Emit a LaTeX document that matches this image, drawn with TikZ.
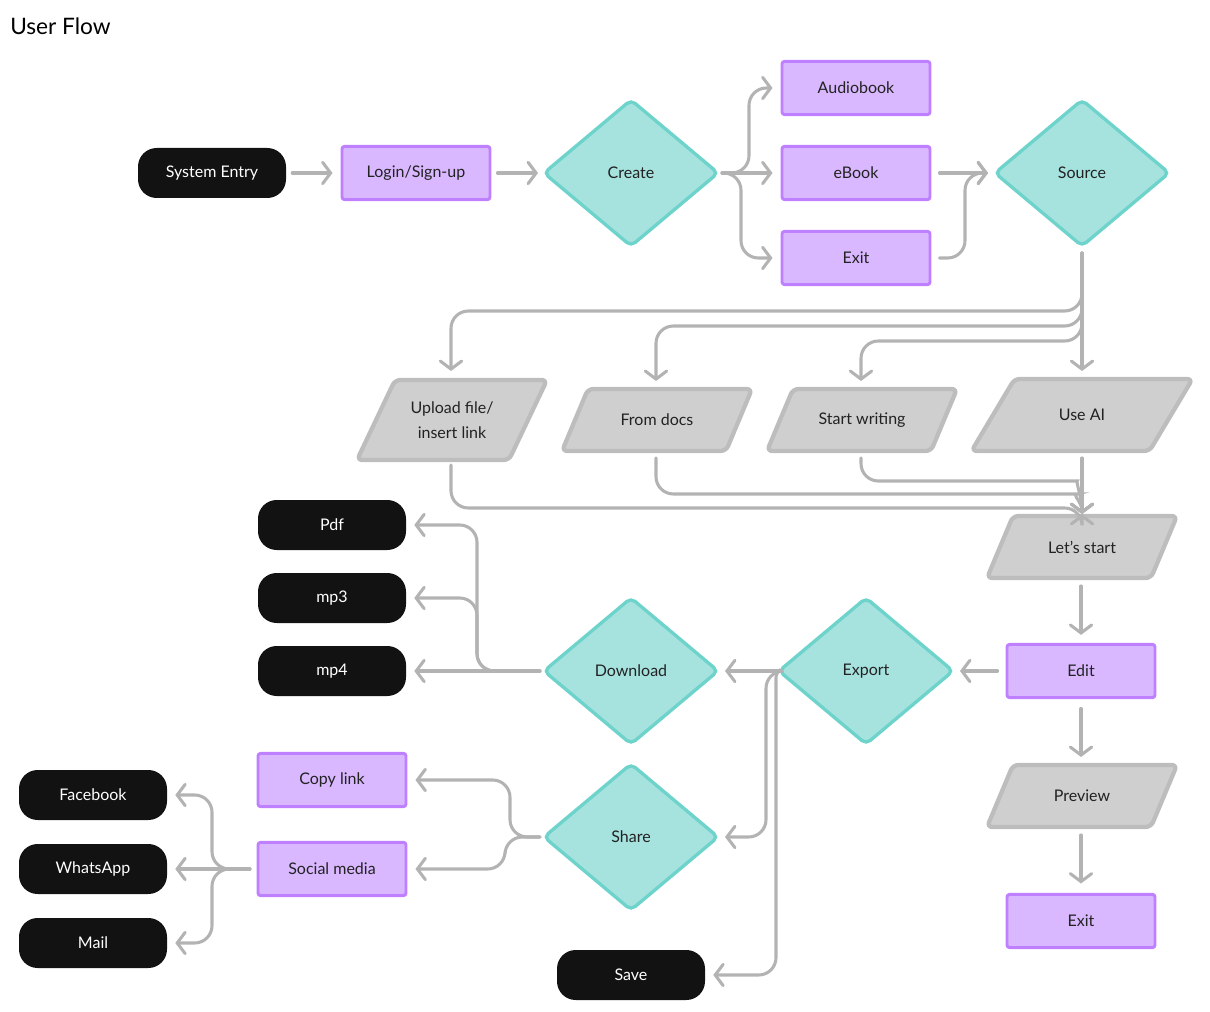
\documentclass[tikz,border=0pt]{standalone}
\usepackage{fontspec}
\setmainfont{Lato}
\usetikzlibrary{arrows.meta}
\definecolor{purf}{HTML}{D9B8FF}
\definecolor{purd}{HTML}{BF80FF}
\definecolor{tealf}{HTML}{A6E3DF}
\definecolor{teald}{HTML}{6DD3CB}
\definecolor{grf}{HTML}{CFCFCF}
\definecolor{grd}{HTML}{BDBDBD}
\definecolor{ln}{HTML}{B3B3B3}
\definecolor{blk}{HTML}{121212}
\definecolor{txt}{HTML}{222222}
\newcommand\pgram[7]{%
 \draw[fill=grf,draw=grd,line width=3.2pt,rounded corners=4pt]
 ({#2-#4/2+#6/2},{#3-#5/2}) -- ({#2+#4/2+#6/2},{#3-#5/2}) -- ({#2+#4/2-#6/2},{#3+#5/2}) -- ({#2-#4/2-#6/2},{#3+#5/2}) -- cycle;
 \node[lbl,minimum width={#4*0.75pt},minimum height={#5*0.75pt},align=center] (#1) at (#2,#3) {#7};}
\newcommand\dia[4]{%
 \draw[fill=tealf,draw=teald,line width=2.5pt,rounded corners=4pt]
 ({#2-87},#3) -- (#2,{#3-73}) -- ({#2+87},#3) -- (#2,{#3+73}) -- cycle;
 \node[lbl,minimum width=130pt,minimum height=109pt] (#1) at (#2,#3) {#4};}
\begin{document}
\begin{tikzpicture}[x=0.75pt,y=-0.75pt,
 lbl/.style={inner sep=0pt,text=txt,font=\fontsize{12}{15}\selectfont},
 blackbox/.style={fill=blk,rounded corners=14pt,minimum width=111pt,minimum height=37.5pt,text=white,font=\fontsize{12}{15}\selectfont,inner sep=0pt},
 purbox/.style={fill=purf,draw=purd,line width=2.2pt,rounded corners=2pt,minimum width=111pt,minimum height=40pt,text=txt,font=\fontsize{12}{15}\selectfont,inner sep=0pt},
 arr/.style={draw=ln,line width=2.3pt,line cap=round,rounded corners=13pt,-{Straight Barb[length=6pt,width=16pt,line cap=round]}},
 ]
\useasboundingbox (0,0) rectangle (1210,1012);
\node[anchor=west,font=\fontsize{17}{20}\selectfont,inner sep=0pt] (title) at (10,26) {User Flow};
% top row
\node[blackbox] (entry) at (212,173) {System Entry};
\node[purbox] (login) at (416,173) {Login/Sign-up};
\dia{create}{631}{173}{Create}
\node[purbox] (audio) at (856,88) {Audiobook};
\node[purbox] (ebook) at (856,173) {eBook};
\node[purbox] (exit1) at (856,258) {Exit};
\dia{source}{1082}{173}{Source}
% inputs
\pgram{upload}{452}{420}{152}{80}{38}{Upload file/\\[4pt]insert link}
\pgram{docs}{657}{420}{164}{62}{26}{From docs}
\pgram{write}{862}{420}{164}{62}{26}{Start writing}
\pgram{ai}{1082}{415}{178}{72}{43}{Use AI}
\pgram{start}{1082}{547}{164}{62}{26}{Let’s start}
\node[purbox] (edit) at (1081,671) {Edit};
\pgram{preview}{1082}{796}{164}{62}{26}{Preview}
\node[purbox] (exit2) at (1081,921) {Exit};
\dia{export}{866}{671}{Export}
\dia{download}{631}{671}{Download}
\dia{share}{631}{837}{Share}
\node[blackbox] (pdf) at (332,525) {Pdf};
\node[blackbox] (mp3) at (332,598) {mp3};
\node[blackbox] (mp4) at (332,671) {mp4};
\node[purbox] (copy) at (332,780) {Copy link};
\node[purbox] (social) at (332,869) {Social media};
\node[blackbox] (fb) at (93,795) {Facebook};
\node[blackbox] (wa) at (93,869) {WhatsApp};
\node[blackbox] (mail) at (93,943) {Mail};
\node[blackbox] (save) at (631,975) {Save};
% connectors
\coordinate (c1) at (722,173);
\draw[arr] (entry.east)++(6,0) -- ([xshift=-6]login.west);
\draw[arr] (login.east)++(6,0) -- (538,173);
\draw[arr] (c1) -| (749,88) -- ([xshift=-6]audio.west);
\draw[arr] (c1) -- ([xshift=-6]ebook.west);
\draw[arr] (c1) -| (741,258) -- ([xshift=-6]exit1.west);
\draw[arr] ([xshift=6]ebook.east) -- (988,173);
\draw[arr] ([xshift=6]exit1.east) -| (965,173) -- (988,173);
\coordinate (s1) at (1082,253);
\draw[arr] (s1) -- (1082,371);
\draw[arr] (s1) |- (451,311) -- (451,371);
\draw[arr] (s1) |- (656,326) -- (656,381);
\draw[arr] (s1) |- (861,341) -- (861,381);
\coordinate (ls) at (1082,514);
\draw[arr] (451,465) |- (1082,508) -- (ls);
\draw[arr] (656,458) |- (1060,494) to[out=0,in=90] (ls);
\draw[arr] (861,458) |- (1060,481) to[out=0,in=90] (ls);
\draw[arr] (1082,458) -- (ls);
\draw[arr] (1081,586) -- ([yshift=6]edit.north);
\draw[arr] ([xshift=-6]edit.west) -- (960,671);
\draw[arr] ([yshift=-7]edit.south) -- (1081,757);
\draw[arr] (1081,835) -- ([yshift=7]exit2.north);
\coordinate (e1) at (778,671);
\draw[arr] (e1) -- (725,671);
\draw[arr] (e1) -| (766,837) -- (725,837);
\draw[arr,rounded corners=4pt] (e1) -- (776,672) [rounded corners=13pt] -- (776,975) -- ([xshift=6]save.east);
\coordinate (d1) at (540,671);
\draw[arr] (d1) -- ([xshift=6]mp4.east);
\draw[arr] (d1) -| (477,525) -- ([xshift=6]pdf.east);
\draw[arr] (d1) -| (477,598) -- ([xshift=6]mp3.east);
\coordinate (h1) at (540,837);
\draw[arr] (h1) -| (510,780) -- ([xshift=6]copy.east);
\draw[arr] (h1) -| (505,869) -- ([xshift=6]social.east);
\coordinate (m1) at (250,869);
\draw[arr] (m1) -| (212,795) -- ([xshift=6]fb.east);
\draw[arr] (m1) -- ([xshift=6]wa.east);
\draw[arr] (m1) -| (212,943) -- ([xshift=6]mail.east);
\end{tikzpicture}
\end{document}
